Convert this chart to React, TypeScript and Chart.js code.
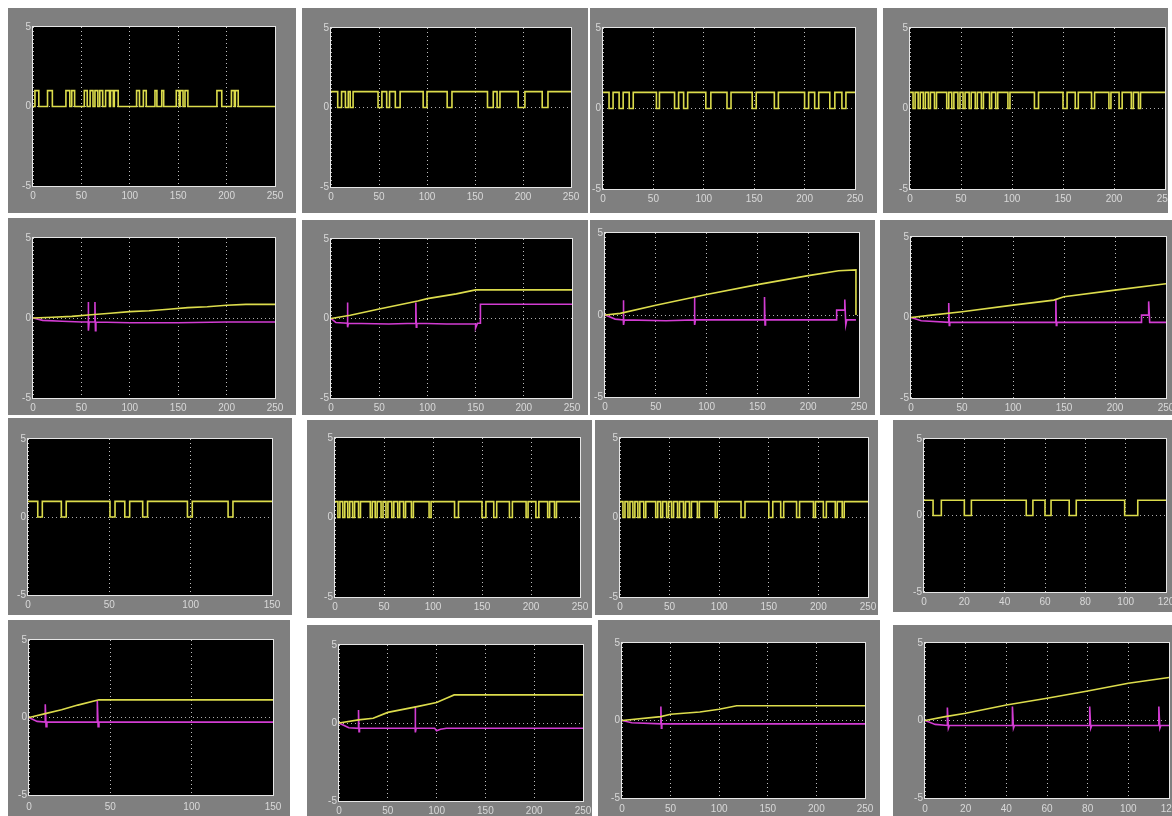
import React, { useEffect, useRef } from "react";
import { Chart, registerables } from "chart.js";
Chart.register(...registerables);

// ---------- data ----------
// square-wave scopes: toggle positions of the yellow signal
const r1c1Edges = [2, 6, 15, 20, 34, 38, 40, 43, 53, 56, 59, 62, 64, 67, 69, 72, 75, 79, 80, 83, 84, 88, 107, 110, 114, 117, 126, 128, 133, 135, 148, 151, 152, 155, 157, 160, 190, 195, 205, 208, 209, 212];
const r1c2Edges = [7, 11, 15, 18, 20, 23, 49, 53, 58, 61, 67, 72, 96, 100, 121, 126, 163, 169, 173, 176, 195, 202, 220, 226];
const r1c3Edges = [6, 10, 16, 20, 26, 30, 53, 56, 71, 75, 80, 84, 102, 107, 123, 127, 148, 152, 170, 174, 200, 204, 210, 214, 225, 230, 237, 241];
const r1c4Edges = [3, 5, 8, 10, 13, 15, 18, 20, 24, 26, 36, 38, 41, 43, 47, 49, 52, 54, 58, 60, 64, 66, 70, 72, 78, 80, 84, 86, 96, 98, 122, 126, 150, 154, 162, 165, 178, 181, 195, 197, 205, 208, 217, 219, 224, 226];
const r3c1Edges = [6, 8.8, 20.5, 23.5, 50.4, 53.5, 59.5, 62.5, 70.5, 73.5, 98, 101, 123, 126];
const r3c2Edges = [3, 5, 8, 10, 13, 15, 18, 20, 24, 26, 36, 38, 41, 43, 47, 49, 52, 54, 58, 60, 64, 66, 70, 72, 78, 80, 96, 98, 122, 126, 150, 154, 162, 165, 178, 181, 195, 197, 205, 208, 217, 219, 224, 226];
const r3c3Edges = [3, 5, 8, 10, 13, 15, 18, 20, 24, 26, 36, 38, 41, 43, 47, 49, 52, 54, 58, 60, 64, 66, 70, 72, 78, 80, 96, 98, 122, 126, 150, 154, 162, 165, 178, 181, 195, 197, 205, 208, 217, 219, 224, 226];
const r3c4Edges = [4.5, 8.6, 20, 23.5, 50.7, 54, 60, 63, 72, 75.5, 99.5, 106];

// ramp scopes: yellow (output) and magenta (error) traces
const r2c1YelX = [0, 20, 40, 60, 80, 100, 120, 140, 160, 180, 200, 220, 250];
const r2c1YelY = [0, 0.05, 0.1, 0.2, 0.3, 0.4, 0.45, 0.55, 0.65, 0.7, 0.8, 0.85, 0.85];
const r2c1MagX = [0, 10, 30, 50, 57, 57, 57.5, 58, 64, 64, 64.5, 65, 100, 150, 200, 250];
const r2c1MagY = [0, -0.15, -0.2, -0.25, -0.25, 1.0, -0.8, -0.25, -0.25, 1.0, -0.8, -0.25, -0.3, -0.3, -0.25, -0.25];

const r2c2YelX = [0, 20, 50, 90, 100, 130, 150, 250];
const r2c2YelY = [0, 0.2, 0.6, 1.1, 1.25, 1.55, 1.8, 1.8];
const r2c2MagX = [0, 5, 17, 17, 17.5, 18, 60, 88, 88, 88.5, 89, 120, 150, 150, 152, 155, 155, 250];
const r2c2MagY = [0, -0.25, -0.3, 1.0, -0.55, -0.3, -0.35, -0.3, 1.0, -0.55, -0.3, -0.35, -0.35, -0.6, -0.3, -0.3, 0.9, 0.9];

const r2c3YelX = [0, 15, 50, 100, 150, 200, 230, 247, 247];
const r2c3YelY = [0, 0.1, 0.6, 1.25, 1.85, 2.4, 2.7, 2.75, 0];
const r2c3MagX = [0, 10, 18, 18, 18.5, 19, 60, 88, 88, 88.5, 89, 157, 157, 157.5, 158, 228, 228, 236, 236, 237, 238, 247];
const r2c3MagY = [0, -0.25, -0.3, 0.9, -0.6, -0.3, -0.35, -0.3, 1.1, -0.6, -0.3, -0.3, 1.1, -0.6, -0.3, -0.3, 0.3, 0.3, 0.95, -0.6, -0.3, -0.3];

const r2c4YelX = [0, 20, 50, 100, 140, 150, 200, 250];
const r2c4YelY = [0, 0.15, 0.36, 0.77, 1.08, 1.29, 1.7, 2.1];
const r2c4MagX = [0, 10, 37, 37, 37.5, 38, 100, 142, 142, 142.5, 143, 226, 226, 233, 233, 234, 250];
const r2c4MagY = [0, -0.2, -0.3, 0.9, -0.5, -0.3, -0.3, -0.3, 1.1, -0.5, -0.3, -0.3, 0.15, 0.15, 1.0, -0.3, -0.3];

const r4c1YelX = [0, 10, 20, 30, 43, 150];
const r4c1YelY = [0, 0.25, 0.5, 0.8, 1.14, 1.14];
const r4c1MagX = [0, 5, 10, 10, 10.5, 11, 30, 42, 42, 42.5, 43, 150];
const r4c1MagY = [0, -0.25, -0.3, 0.85, -0.6, -0.3, -0.3, -0.3, 1.07, -0.6, -0.3, -0.3];

const r4c2YelX = [0, 20, 35, 50, 80, 100, 110, 118, 250];
const r4c2YelY = [0, 0.2, 0.3, 0.68, 1.05, 1.32, 1.58, 1.8, 1.8];
const r4c2MagX = [0, 10, 20, 20, 20.5, 21, 78, 78, 78.5, 79, 98, 100, 104, 110, 250];
const r4c2MagY = [0, -0.3, -0.34, 0.83, -0.55, -0.34, -0.34, 1.05, -0.6, -0.34, -0.34, -0.5, -0.4, -0.34, -0.34];

const r4c3YelX = [0, 40, 50, 80, 100, 118, 250];
const r4c3YelY = [0, 0.25, 0.4, 0.55, 0.73, 0.95, 0.95];
const r4c3MagX = [0, 10, 40, 40, 40.5, 41, 250];
const r4c3MagY = [0, -0.15, -0.22, 0.9, -0.5, -0.22, -0.22];

const r4c4YelX = [0, 10, 20, 40, 60, 80, 100, 120];
const r4c4YelY = [0, 0.25, 0.47, 1.0, 1.44, 1.9, 2.4, 2.77];
const r4c4MagX = [0, 5, 11, 11, 11.5, 12, 43, 43, 43.5, 44, 81, 81, 81.5, 82, 115, 115, 115.5, 116, 120];
const r4c4MagY = [0, -0.25, -0.32, 0.84, -0.5, -0.32, -0.32, 0.9, -0.5, -0.32, -0.32, 0.9, -0.5, -0.32, -0.32, 0.9, -0.5, -0.32, -0.32];

const Y_MIN = -5;
const Y_MAX = 5;
const Y_STEP = 5;

// ---------- helpers ----------
type Pt = { x: number; y: number };
const zip = (xs: number[], ys: number[]): Pt[] => xs.map((x, i) => ({ x, y: ys[i] }));
const squareWave = (edges: number[], startHigh: boolean, xMax: number): Pt[] => {
  let level = startHigh ? 1 : 0;
  const pts: Pt[] = [{ x: 0, y: level }];
  edges.forEach((e) => {
    pts.push({ x: e, y: level });
    level = 1 - level;
    pts.push({ x: e, y: level });
  });
  pts.push({ x: xMax, y: level });
  return pts;
};

const YELLOW = "#dcdc4c";
const MAGENTA = "#d23cd2";

type Spec = {
  g: [number, number, number, number]; // gray panel left, top, right, bottom
  p: [number, number, number, number]; // plot area left, top, right, bottom
  lab: number; // gap between plot bottom and x tick labels
  xMax: number;
  xStep: number;
  yellow: Pt[];
  magenta?: Pt[];
};

const specs: Spec[] = [
  // row 1
  { g: [8, 8, 296, 213], p: [33, 27, 275, 186], lab: 4, xMax: 250, xStep: 50, yellow: squareWave(r1c1Edges, false, 250) },
  { g: [302, 8, 588, 213], p: [331, 28, 571, 187], lab: 4, xMax: 250, xStep: 50, yellow: squareWave(r1c2Edges, true, 250) },
  { g: [590, 8, 877, 213], p: [603, 28, 855, 189], lab: 4, xMax: 250, xStep: 50, yellow: squareWave(r1c3Edges, true, 250) },
  { g: [883, 8, 1168, 213], p: [910, 28, 1165, 189], lab: 4, xMax: 250, xStep: 50, yellow: squareWave(r1c4Edges, true, 250) },
  // row 2
  { g: [8, 218, 296, 415], p: [33, 238, 275, 398], lab: 4, xMax: 250, xStep: 50, yellow: zip(r2c1YelX, r2c1YelY), magenta: zip(r2c1MagX, r2c1MagY) },
  { g: [302, 220, 588, 415], p: [331, 239, 572, 398], lab: 4, xMax: 250, xStep: 50, yellow: zip(r2c2YelX, r2c2YelY), magenta: zip(r2c2MagX, r2c2MagY) },
  { g: [590, 220, 875, 415], p: [605, 233, 859, 397], lab: 4, xMax: 250, xStep: 50, yellow: zip(r2c3YelX, r2c3YelY), magenta: zip(r2c3MagX, r2c3MagY) },
  { g: [880, 220, 1172, 415], p: [911, 237, 1166, 398], lab: 4, xMax: 250, xStep: 50, yellow: zip(r2c4YelX, r2c4YelY), magenta: zip(r2c4MagX, r2c4MagY) },
  // row 3
  { g: [8, 418, 292, 615], p: [28, 439, 272, 595], lab: 4, xMax: 150, xStep: 50, yellow: squareWave(r3c1Edges, true, 150) },
  { g: [307, 420, 592, 618], p: [335, 438, 580, 597], lab: 4, xMax: 250, xStep: 50, yellow: squareWave(r3c2Edges, true, 250) },
  { g: [595, 420, 878, 615], p: [620, 438, 868, 597], lab: 4, xMax: 250, xStep: 50, yellow: squareWave(r3c3Edges, true, 250) },
  { g: [893, 420, 1172, 612], p: [924, 439, 1166, 592], lab: 4, xMax: 120, xStep: 20, yellow: squareWave(r3c4Edges, true, 120) },
  // row 4
  { g: [8, 620, 290, 816], p: [29, 640, 273, 795], lab: 6, xMax: 150, xStep: 50, yellow: zip(r4c1YelX, r4c1YelY), magenta: zip(r4c1MagX, r4c1MagY) },
  { g: [307, 625, 592, 816], p: [339, 645, 583, 801], lab: 4, xMax: 250, xStep: 50, yellow: zip(r4c2YelX, r4c2YelY), magenta: zip(r4c2MagX, r4c2MagY) },
  { g: [598, 620, 880, 816], p: [622, 643, 865, 798], lab: 5, xMax: 250, xStep: 50, yellow: zip(r4c3YelX, r4c3YelY), magenta: zip(r4c3MagX, r4c3MagY) },
  { g: [893, 625, 1172, 816], p: [925, 643, 1169, 798], lab: 5, xMax: 120, xStep: 20, yellow: zip(r4c4YelX, r4c4YelY), magenta: zip(r4c4MagX, r4c4MagY) },
];

const scopePlugin = {
  id: "scopeFrame",
  beforeDraw(chart: any) {
    const { ctx, chartArea: a } = chart;
    ctx.save();
    ctx.fillStyle = "#000";
    ctx.fillRect(a.left, a.top, a.right - a.left, a.bottom - a.top);
    ctx.restore();
  },
  afterDraw(chart: any) {
    const { ctx, chartArea: a } = chart;
    ctx.save();
    ctx.strokeStyle = "#e6e6e6";
    ctx.lineWidth = 1;
    ctx.strokeRect(Math.round(a.left) - 0.5, Math.round(a.top) - 0.5, Math.round(a.right - a.left) + 1, Math.round(a.bottom - a.top) + 1);
    ctx.restore();
  },
};

const AXIS_W = 12;

function Scope({ s }: { s: Spec }) {
  const ref = useRef<HTMLCanvasElement | null>(null);
  const [gl, gt, gr, gb] = s.g;
  const [pl, pt, pr, pb] = s.p;
  const w = gr - gl;
  const h = gb - gt;
  useEffect(() => {
    if (!ref.current) return;
    const axisH = Math.min(16, Math.max(0, gb - pb));
    const padL = Math.max(0, pl - gl - AXIS_W);
    const padT = pt - gt;
    const padR = Math.max(0, gr - pr);
    const padB = Math.max(0, gb - pb - axisH);
    const tickFont = { family: "'Liberation Sans', Arial, sans-serif", size: 10 };
    const datasets: any[] = [
      {
        data: s.yellow,
        borderColor: YELLOW,
        borderWidth: 1.6,
        pointRadius: 0,
        fill: false,
        tension: 0,
      },
    ];
    if (s.magenta) {
      datasets.push({
        data: s.magenta,
        borderColor: MAGENTA,
        borderWidth: 1.6,
        pointRadius: 0,
        fill: false,
        tension: 0,
      });
    }
    const chart = new Chart(ref.current, {
      type: "line",
      data: { datasets },
      options: {
        animation: false,
        responsive: false,
        devicePixelRatio: 1,
        parsing: false,
        normalized: true,
        layout: { padding: { left: padL, top: padT, right: padR, bottom: padB } },
        plugins: { legend: { display: false }, tooltip: { enabled: false } },
        scales: {
          x: {
            type: "linear",
            min: 0,
            max: s.xMax,
            ticks: { stepSize: s.xStep, color: "#d9d9d9", font: tickFont, padding: s.lab, maxRotation: 0, autoSkip: false },
            grid: { color: "rgba(225,225,225,0.85)", drawTicks: false, lineWidth: 1 },
            border: { display: false, dash: [1, 3] },
            afterFit: (sc: any) => {
              sc.height = axisH;
              sc.paddingLeft = 0;
              sc.paddingRight = 0;
            },
          },
          y: {
            type: "linear",
            min: Y_MIN,
            max: Y_MAX,
            ticks: { stepSize: Y_STEP, color: "#d9d9d9", font: tickFont, padding: 2 },
            grid: {
              color: (c: any) => (c.tick && c.tick.value === 0 ? "rgba(215,215,215,0.8)" : "rgba(0,0,0,0)"),
              drawTicks: false,
              lineWidth: 1,
            },
            border: { display: false, dash: [1, 3] },
            afterFit: (sc: any) => {
              sc.width = AXIS_W;
              sc.paddingTop = 0;
              sc.paddingBottom = 0;
            },
          },
        },
      } as any,
      plugins: [scopePlugin],
    });
    return () => chart.destroy();
  }, []);
  return (
    <canvas
      ref={ref}
      width={w}
      height={h}
      style={{ position: "absolute", left: gl, top: gt, width: w, height: h, background: "#7f7f7f" }}
    />
  );
}

export default function App() {
  return (
    <div style={{ position: "fixed", left: 0, top: 0, width: 1172, height: 816, background: "#ffffff", overflow: "hidden" }}>
      {specs.map((s, i) => (
        <Scope key={i} s={s} />
      ))}
    </div>
  );
}
